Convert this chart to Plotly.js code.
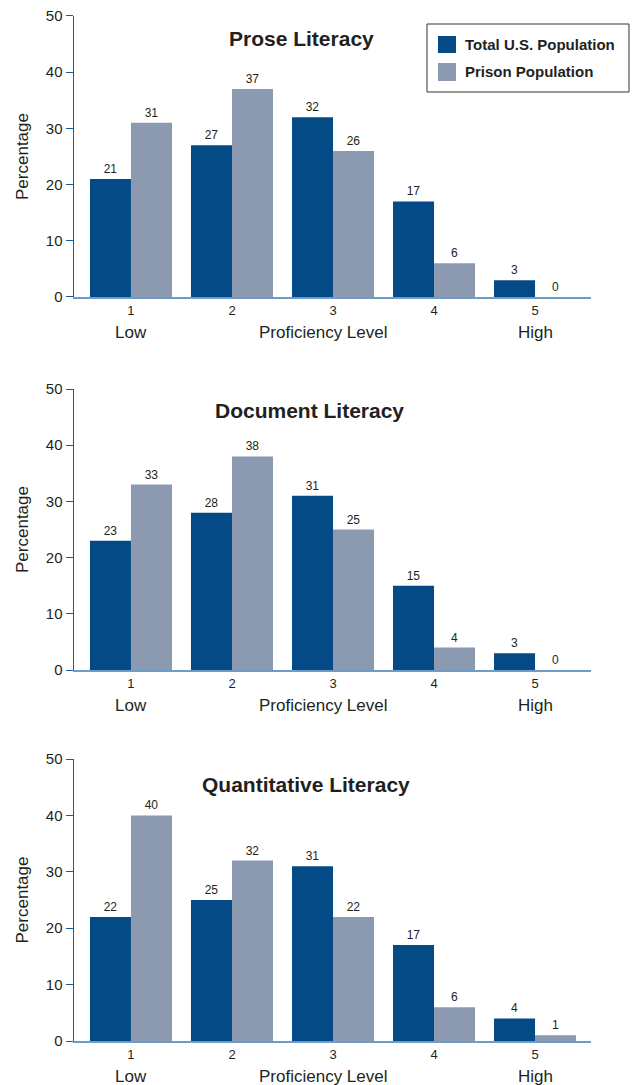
<!DOCTYPE html>
<html>
<head>
<meta charset="utf-8">
<script src="https://cdn.plot.ly/plotly-3.0.1.min.js"></script>
<style>html,body{margin:0;padding:0;background:#fff;}#chart{width:632px;height:1085px;}</style>
</head>
<body>
<div id="chart"></div>
<script>
const levels = ['1', '2', '3', '4', '5'];
const panelTitles = ['Prose Literacy', 'Document Literacy', 'Quantitative Literacy'];
const seriesNames = ['Total U.S. Population', 'Prison Population'];
const proseTotal = [21, 27, 32, 17, 3];
const prosePrison = [31, 37, 26, 6, 0];
const documentTotal = [23, 28, 31, 15, 3];
const documentPrison = [33, 38, 25, 4, 0];
const quantTotal = [22, 25, 31, 17, 4];
const quantPrison = [40, 32, 22, 6, 1];
const yTicks = [0, 10, 20, 30, 40, 50];

const FONT = '"Liberation Sans Narrow", "Arial Narrow", "Liberation Sans", Arial, sans-serif';
const DARK = '#044a87';
const GRAY = '#8b9ab1';
const TXT = '#231f20';

const panels = [
  {total: proseTotal, prison: prosePrison},
  {total: documentTotal, prison: documentPrison},
  {total: quantTotal, prison: quantPrison}
];
const domains = [[0.73052, 0.99437], [0.38028, 0.64413], [0.03192, 0.29671]];
const titlePos = [[0.441, 0.92], [0.4555, 0.925], [0.4487, 0.908]];

const traces = [];
const layout = {
  width: 632, height: 1085,
  margin: {l: 74, r: 41, t: 10, b: 10},
  paper_bgcolor: '#fff', plot_bgcolor: '#fff',
  barmode: 'group', bargap: 0.188, bargroupgap: 0,
  showlegend: false,
  font: {family: FONT, color: TXT},
  annotations: [], shapes: []
};

panels.forEach((p, i) => {
  const n = i === 0 ? '' : String(i + 1);
  const xa = 'x' + n, ya = 'y' + n;
  [[p.total, DARK, seriesNames[0]], [p.prison, GRAY, seriesNames[1]]].forEach(([vals, col, name]) => {
    traces.push({
      type: 'bar', x: levels, y: vals, name: name, xaxis: xa, yaxis: ya,
      marker: {color: col, line: {width: 0}},
      text: vals.map(String), textposition: 'outside', cliponaxis: false,
      textfont: {family: FONT, size: 12, color: TXT},
      hoverinfo: 'skip'
    });
  });
  layout['xaxis' + n] = {
    type: 'category', domain: [0, 1], anchor: ya, range: [-0.564, 4.554],
    showline: true, linecolor: '#6f9bc7', linewidth: 2,
    ticks: '', showgrid: false, zeroline: false,
    tickfont: {family: FONT, size: 13, color: TXT}, fixedrange: true
  };
  layout['yaxis' + n] = {
    domain: domains[i], anchor: xa, range: [0, 50],
    tickvals: yTicks, ticktext: yTicks.map(String),
    showline: true, linecolor: '#1d5c9c', linewidth: 1.5,
    ticks: 'outside', ticklen: 7, tickcolor: '#1d5c9c', tickwidth: 1,
    showgrid: false, zeroline: false,
    tickfont: {family: FONT, size: 15, color: TXT},
    title: {text: 'Percentage', font: {family: FONT, size: 17, color: TXT}, standoff: 13},
    fixedrange: true
  };
  const xd = xa + ' domain', yd = ya + ' domain';
  layout.annotations.push(
    {xref: xd, yref: yd, x: titlePos[i][0], y: titlePos[i][1], text: '<b>' + panelTitles[i] + '</b>', showarrow: false,
     xanchor: 'center', yanchor: 'middle', font: {family: FONT, size: 21, color: TXT}},
    {xref: xa, yref: yd, x: 0, y: -0.125, text: 'Low', showarrow: false,
     xanchor: 'center', yanchor: 'middle', font: {family: FONT, size: 17, color: TXT}},
    {xref: xa, yref: yd, x: 4, y: -0.125, text: 'High', showarrow: false,
     xanchor: 'center', yanchor: 'middle', font: {family: FONT, size: 17, color: TXT}},
    {xref: xd, yref: yd, x: 0.482, y: -0.125, text: 'Proficiency Level', showarrow: false,
     xanchor: 'center', yanchor: 'middle', font: {family: FONT, size: 17, color: TXT}}
  );
});

// legend box (panel 1)
layout.shapes.push(
  {type: 'rect', xref: 'x domain', yref: 'y domain', x0: 0.6828, x1: 1.0735, y0: 0.7295, y1: 0.9715,
   line: {color: '#333', width: 1}, fillcolor: 'rgba(0,0,0,0)'},
  {type: 'rect', xref: 'x domain', yref: 'y domain', x0: 0.7041, x1: 0.7389, y0: 0.8683, y1: 0.9288,
   line: {width: 0}, fillcolor: DARK},
  {type: 'rect', xref: 'x domain', yref: 'y domain', x0: 0.7041, x1: 0.7389, y0: 0.7687, y1: 0.8327,
   line: {width: 0}, fillcolor: GRAY}
);
layout.annotations.push(
  {xref: 'x domain', yref: 'y domain', x: 0.7524, y: 0.8986, text: '<b>' + seriesNames[0] + '</b>', showarrow: false,
   xanchor: 'left', yanchor: 'middle', font: {family: FONT, size: 15, color: TXT}},
  {xref: 'x domain', yref: 'y domain', x: 0.7524, y: 0.8007, text: '<b>' + seriesNames[1] + '</b>', showarrow: false,
   xanchor: 'left', yanchor: 'middle', font: {family: FONT, size: 15, color: TXT}}
);

Plotly.newPlot('chart', traces, layout, {displayModeBar: false, staticPlot: true});
</script>
</body>
</html>
